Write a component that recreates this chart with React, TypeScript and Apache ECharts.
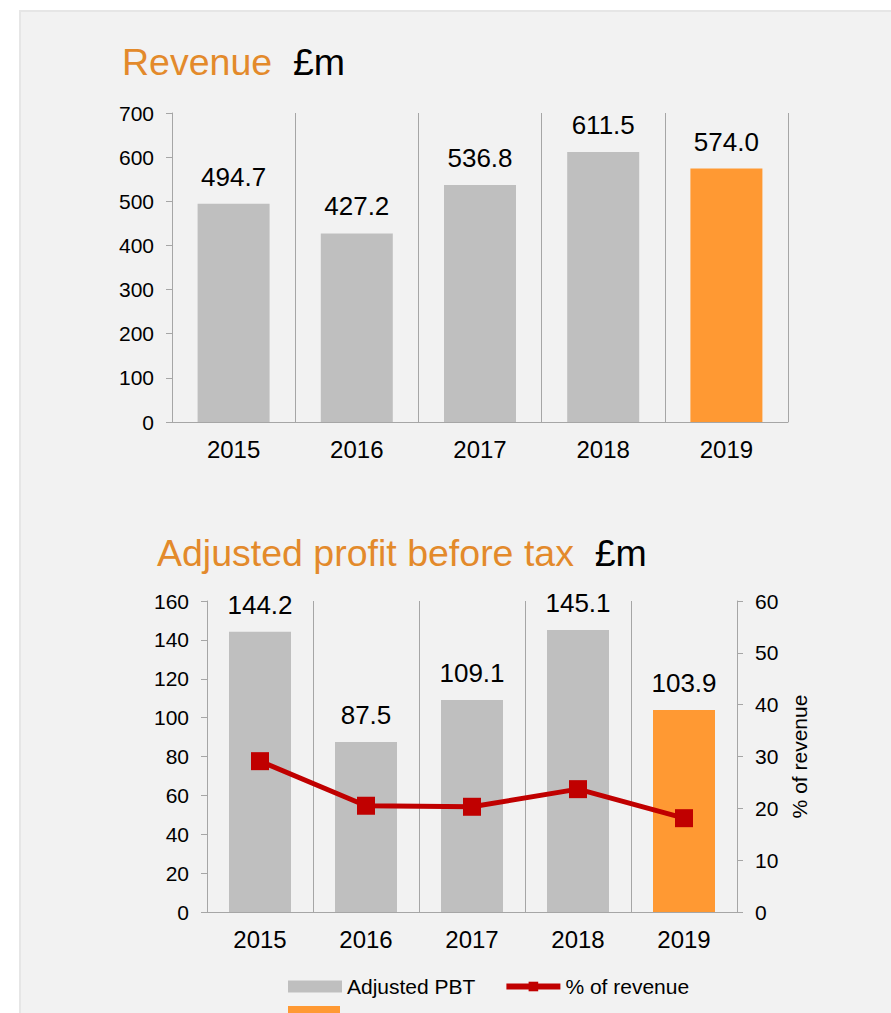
import React, { useEffect, useRef } from "react";
import * as echarts from "echarts";

const years = ["2015", "2016", "2017", "2018", "2019"];
const revenue = [494.7, 427.2, 536.8, 611.5, 574.0];
const pbt = [144.2, 87.5, 109.1, 145.1, 103.9];
const pctOfRevenue = [29.1, 20.5, 20.3, 23.7, 18.1];
const revenueAxis = { min: 0, max: 700, interval: 100 };
const pbtAxis = { min: 0, max: 160, interval: 20 };
const pctAxis = { min: 0, max: 60, interval: 10 };

const FONT = "'Liberation Sans', Arial, Helvetica, sans-serif";
const GREY = "#bfbfbf";
const ORANGE = "#ff9933";
const RED = "#c00000";
const AXIS = "#a6a6a6";
const TITLE = "#e38a2b";
const lastIdx = years.length - 1;

export default function App() {
  const ref = useRef<HTMLDivElement>(null);

  useEffect(() => {
    if (!ref.current) return;
    const chart = echarts.init(ref.current, undefined, { renderer: "svg" });

    const axisLineStyle = { color: AXIS, width: 1 };
    const xAxisCommon = {
      type: "category" as const,
      data: years,
      axisLine: { show: true, lineStyle: axisLineStyle },
      axisTick: { show: false },
      axisLabel: { fontSize: 24, color: "#000", margin: 15, fontFamily: FONT },
      splitLine: { show: true, lineStyle: { color: AXIS, width: 1 } },
    };
    const yAxisCommon = {
      type: "value" as const,
      axisLine: { show: true, lineStyle: axisLineStyle },
      axisTick: { show: true, length: 6, lineStyle: axisLineStyle },
      axisLabel: { fontSize: 21, color: "#000", margin: 18, fontFamily: FONT },
      splitLine: { show: false },
    };
    const barLabel = {
      show: true,
      position: "top" as const,
      distance: 14,
      fontSize: 26,
      color: "#000",
      fontFamily: FONT,
      formatter: (p: any) => Number(p.value).toFixed(1),
    };

    const titleRich = (text: string) => `{o|${text}}{s|  }{k|£m}`;
    const TS = 37.5;
    const rich = {
      o: { fontSize: TS, fill: TITLE, fontFamily: FONT },
      s: { fontSize: TS, fill: TITLE, fontFamily: FONT },
      k: { fontSize: TS, fill: "#000", fontFamily: FONT },
    };

    chart.setOption({
      animation: false,
      textStyle: { fontFamily: FONT },
      graphic: [
        {
          type: "text",
          x: 122,
          y: 62,
          style: {
            text: titleRich("Revenue"),
            rich,
            fontSize: TS,
            fontFamily: FONT,
            fill: TITLE,
            verticalAlign: "middle",
            align: "left",
          },
        },
        {
          type: "text",
          x: 157,
          y: 553,
          style: {
            text: titleRich("Adjusted profit before tax"),
            rich,
            fontSize: TS,
            fontFamily: FONT,
            fill: TITLE,
            verticalAlign: "middle",
            align: "left",
          },
        },
      ],
      grid: [
        { left: 172, top: 113, width: 616, height: 309 },
        { left: 207, top: 601, width: 530, height: 311 },
      ],
      xAxis: [
        { ...xAxisCommon, gridIndex: 0 },
        { ...xAxisCommon, gridIndex: 1 },
      ],
      yAxis: [
        { ...yAxisCommon, gridIndex: 0, ...revenueAxis },
        { ...yAxisCommon, gridIndex: 1, ...pbtAxis },
        {
          ...yAxisCommon,
          gridIndex: 1,
          position: "right",
          ...pctAxis,
          name: "% of revenue",
          nameLocation: "middle",
          nameGap: 51,
          nameRotate: 90,
          nameTextStyle: { fontSize: 21, color: "#000", fontFamily: FONT },
        },
      ],
      legend: [
        {
          data: [
            { name: "Adjusted PBT", icon: "rect" },
            { name: "% of revenue", lineStyle: { width: 6 } },
          ],
          left: 288,
          top: 976,
          padding: 0,
          itemWidth: 54,
          itemHeight: 12,
          itemGap: 28,
          selectedMode: false,
          textStyle: { fontSize: 21, color: "#000", fontFamily: FONT },
        },
        {
          data: [{ name: "2019", icon: "rect" }],
          left: 288,
          top: 1006,
          padding: 0,
          itemWidth: 52,
          itemHeight: 12,
          selectedMode: false,
          formatter: () => "",
          textStyle: { fontSize: 21, color: "#000", fontFamily: FONT },
        },
      ],
      series: [
        {
          name: "Revenue",
          type: "bar",
          xAxisIndex: 0,
          yAxisIndex: 0,
          data: revenue,
          barWidth: 72,
          itemStyle: {
            color: (p: any) => (p.dataIndex === lastIdx ? ORANGE : GREY),
          },
          label: barLabel,
        },
        {
          name: "Adjusted PBT",
          type: "bar",
          xAxisIndex: 1,
          yAxisIndex: 1,
          data: pbt.map((v, i) => (i === lastIdx ? "-" : v)),
          barWidth: 62,
          barGap: "-100%",
          itemStyle: { color: GREY },
          label: barLabel,
        },
        {
          name: "2019",
          type: "bar",
          xAxisIndex: 1,
          yAxisIndex: 1,
          data: pbt.map((v, i) => (i === lastIdx ? v : "-")),
          barWidth: 62,
          barGap: "-100%",
          itemStyle: { color: ORANGE },
          label: barLabel,
        },
        {
          name: "% of revenue",
          type: "line",
          xAxisIndex: 1,
          yAxisIndex: 2,
          data: pctOfRevenue,
          symbol: "rect",
          symbolSize: 18,
          lineStyle: { color: RED, width: 5 },
          itemStyle: { color: RED },
          z: 10,
        },
      ],
    });

    return () => chart.dispose();
  }, []);

  return (
    <div
      style={{
        position: "absolute",
        left: 0,
        top: 0,
        width: 891,
        height: 1013,
        overflow: "hidden",
        background: "#fff",
      }}
    >
      <div
        style={{
          position: "absolute",
          left: 19,
          top: 10,
          width: 900,
          height: 1020,
          background: "#f2f2f2",
          border: "2px solid #e6e6e6",
          boxSizing: "border-box",
        }}
      />
      <div
        ref={ref}
        style={{ position: "absolute", left: 0, top: 0, width: 891, height: 1013 }}
      />
    </div>
  );
}
